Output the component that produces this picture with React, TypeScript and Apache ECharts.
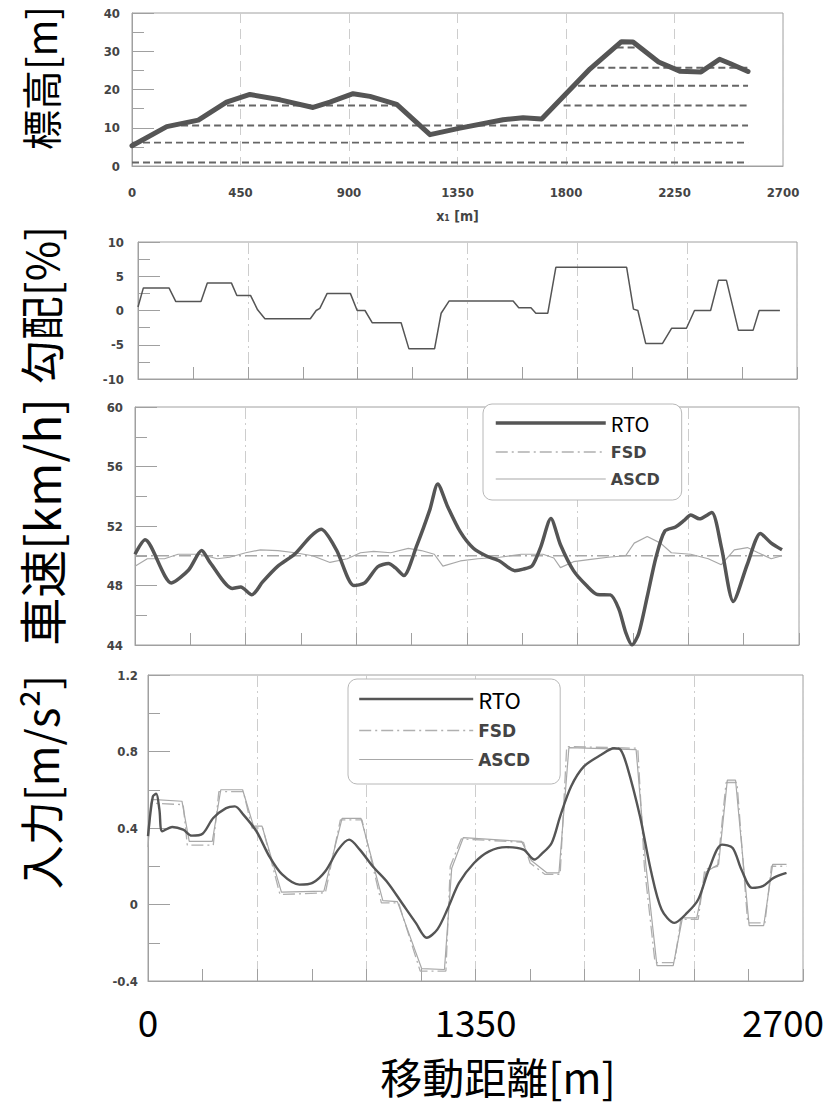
import React, { useEffect, useRef } from "react";
import * as echarts from "echarts";

// ---------- Panel 1: elevation ----------
const elevX = [0, 144, 275, 392, 489, 614, 751, 821, 917, 987, 1098, 1236, 1360, 1539, 1622, 1699, 1900, 2030, 2078, 2184, 2272, 2360, 2437, 2480, 2555];
const elevY = [5.3, 10.3, 12.0, 16.7, 18.7, 17.3, 15.3, 16.7, 18.9, 18.2, 16.1, 8.2, 9.9, 12.1, 12.6, 12.3, 25.4, 32.5, 32.4, 27.2, 24.8, 24.6, 27.9, 26.8, 24.7];
const segLevel = [0.9, 6.1, 10.6, 15.8, 15.8, 21.0, 25.7, 31.0];
const segStart = [0, 0, 158, 394, 1790, 1850, 1930, 2010];
const segEnd = [2555, 2555, 2555, 1100, 2555, 2555, 2555, 2090];

// ---------- Panel 2: gradient ----------
const gradX = [0, 22, 127, 155, 258, 284, 383, 405, 461, 490, 520, 706, 730, 745, 775, 870, 898, 930, 960, 1078, 1110, 1215, 1242, 1275, 1537, 1560, 1610, 1630, 1679, 1712, 2002, 2030, 2048, 2080, 2149, 2186, 2247, 2280, 2346, 2378, 2411, 2460, 2520, 2545, 2630];
const gradY = [0.5, 3.3, 3.3, 1.3, 1.3, 4.0, 4.0, 2.2, 2.2, 0.1, -1.2, -1.2, 0, 0.3, 2.5, 2.5, 0, 0, -1.8, -1.8, -5.6, -5.6, -0.4, 1.4, 1.4, 0.4, 0.4, -0.4, -0.4, 6.3, 6.3, 0.2, 0, -4.8, -4.8, -2.6, -2.6, 0, 0, 4.4, 4.4, -2.9, -2.9, 0, 0];

// ---------- Panel 3: speed ----------
const rtoSpeedX = [0, 41, 148, 218, 271, 307, 395, 430, 475, 519, 581, 651, 713, 757, 819, 890, 934, 987, 1031, 1058, 1093, 1146, 1199, 1231, 1270, 1323, 1376, 1429, 1482, 1544, 1579, 1615, 1650, 1691, 1730, 1783, 1836, 1880, 1933, 1968, 1995, 2021, 2048, 2083, 2118, 2154, 2198, 2233, 2260, 2295, 2345, 2384, 2433, 2490, 2543, 2587, 2631];
const rtoSpeedY = [50.1, 51.07, 48.17, 49.04, 50.35, 49.5, 47.8, 47.9, 47.37, 48.24, 49.3, 50.13, 51.28, 51.78, 50.4, 48.0, 48.17, 49.26, 49.48, 49.2, 48.67, 50.7, 53.1, 54.83, 53.35, 51.6, 50.5, 49.98, 49.65, 49.0, 49.1, 49.33, 50.6, 52.5, 50.74, 49.0, 48.0, 47.4, 47.37, 46.4, 44.87, 44.0, 44.76, 47.26, 49.87, 51.65, 51.93, 52.37, 52.74, 52.48, 52.9, 50.6, 46.93, 49.43, 51.5, 50.85, 50.4];
const fsdSpeedX = [0, 2631];
const fsdSpeedY = [50, 50];
const ascdSpeedX = [0, 50, 120, 175, 265, 334, 385, 450, 510, 581, 651, 722, 793, 863, 917, 970, 1040, 1111, 1164, 1217, 1252, 1323, 1394, 1482, 1570, 1659, 1703, 1730, 1783, 1853, 1924, 1995, 2030, 2083, 2137, 2181, 2260, 2331, 2384, 2437, 2490, 2534, 2587, 2631];
const ascdSpeedY = [49.3, 49.8, 49.8, 50.1, 50.1, 49.8, 49.9, 50.2, 50.4, 50.35, 50.2, 50.0, 49.55, 49.8, 50.2, 50.3, 50.2, 50.5, 50.35, 50.1, 49.3, 49.65, 49.8, 49.9, 50.1, 50.1, 49.85, 49.2, 49.6, 49.75, 49.9, 50.0, 50.85, 51.3, 50.85, 50.2, 50.1, 49.8, 49.4, 50.4, 50.55, 50.2, 49.8, 50.0];

// ---------- Panel 4: input ----------
const rtoInX = [0, 20, 34, 47, 59, 100, 145, 180, 225, 269, 322, 358, 393, 447, 500, 553, 624, 678, 731, 784, 829, 873, 926, 989, 1051, 1104, 1149, 1193, 1237, 1282, 1344, 1406, 1477, 1548, 1593, 1620, 1664, 1699, 1744, 1797, 1868, 1921, 1948, 1975, 2028, 2072, 2117, 2170, 2223, 2268, 2312, 2366, 2410, 2446, 2490, 2534, 2579, 2632];
const rtoInY = [0.357, 0.565, 0.579, 0.496, 0.383, 0.405, 0.391, 0.36, 0.37, 0.452, 0.504, 0.513, 0.47, 0.383, 0.252, 0.157, 0.104, 0.113, 0.174, 0.287, 0.339, 0.287, 0.2, 0.113, 0.0, -0.096, -0.174, -0.13, -0.017, 0.113, 0.217, 0.278, 0.3, 0.287, 0.235, 0.261, 0.322, 0.461, 0.617, 0.722, 0.783, 0.817, 0.809, 0.722, 0.461, 0.183, -0.026, -0.096, -0.043, 0.026, 0.183, 0.313, 0.296, 0.183, 0.087, 0.096, 0.139, 0.165];
const fsdInX = [0, 11, 145, 162, 269, 292, 393, 429, 473, 544, 731, 793, 882, 962, 1033, 1122, 1228, 1246, 1291, 1548, 1575, 1637, 1699, 1726, 2019, 2046, 2090, 2170, 2197, 2268, 2295, 2348, 2383, 2428, 2472, 2543, 2570, 2632];
const fsdInY = [0.36, 0.53, 0.522, 0.31, 0.31, 0.59, 0.59, 0.4, 0.4, 0.052, 0.061, 0.443, 0.443, 0.009, 0.009, -0.348, -0.348, 0.2, 0.343, 0.325, 0.217, 0.157, 0.157, 0.826, 0.817, 0.2, -0.304, -0.304, -0.078, -0.078, 0.183, 0.2, 0.638, 0.638, -0.096, -0.096, 0.2, 0.2];
const ascdInX = [0, 14, 140, 170, 265, 300, 390, 435, 470, 550, 725, 800, 878, 968, 1028, 1128, 1222, 1252, 1300, 1540, 1580, 1645, 1694, 1735, 2012, 2052, 2098, 2165, 2203, 2262, 2300, 2352, 2388, 2422, 2478, 2538, 2575, 2632];
const ascdInY = [0.3, 0.55, 0.54, 0.33, 0.33, 0.6, 0.6, 0.41, 0.41, 0.065, 0.07, 0.45, 0.45, 0.02, 0.015, -0.335, -0.34, 0.19, 0.35, 0.33, 0.23, 0.165, 0.165, 0.82, 0.81, 0.21, -0.32, -0.32, -0.07, -0.07, 0.17, 0.21, 0.65, 0.65, -0.11, -0.11, 0.21, 0.21];

// ---------- tick labels / titles ----------
const xTicks1 = { min: 0, max: 2700, interval: 450 };
const bottomTicks = { min: 0, max: 2700, interval: 1350 };
const yTitles = ["標高[m]", "勾配[%]", "車速[km/h]", "入力[m/s²]"];
const legendNames = ["RTO", "FSD", "ASCD"];

const zip = (xs: number[], ys: number[]) => xs.map((x, i) => [x, ys[i]]);

const FRAME = "#a0a0a0";
const GRIDC = "#cdcdcd";
const DASHDOT = [12, 4, 2, 4];
const tickFont = {
  fontFamily: '"DejaVu Sans Condensed", "DejaVu Sans", sans-serif',
  fontWeight: "bold" as const,
  fontSize: 13,
  color: "#444",
};
const JP = '"Noto Sans CJK JP", "Noto Sans", sans-serif';
const plain = (v: number) => String(Math.round(v * 1000) / 1000);

function buildOption() {
  const grids = [
    { left: 132, top: 13, width: 651, height: 153 },
    { left: 138, top: 242, width: 659, height: 137 },
    { left: 135, top: 407, width: 664, height: 238 },
    { left: 148, top: 675, width: 655, height: 306 },
  ].map((g) => ({ ...g, show: true, borderColor: FRAME, borderWidth: 1, containLabel: false, outerBoundsMode: "none" }));

  const xAxis: any[] = [
    {
      gridIndex: 0, type: "value", ...xTicks1,
      axisLine: { show: true, onZero: false, lineStyle: { color: FRAME } },
      axisTick: { show: false },
      axisLabel: { ...tickFont, margin: 20, formatter: plain },
      splitLine: { show: true, lineStyle: { color: GRIDC, type: [10, 6] } },
      name: "x\u2081 [m]", nameLocation: "middle", nameGap: 43,
      nameTextStyle: { ...tickFont, fontSize: 14 },
    },
  ];
  for (let k = 1; k <= 3; k++) {
    xAxis.push({
      gridIndex: k, type: "value", ...xTicks1,
      axisLine: { show: true, onZero: false, lineStyle: { color: FRAME } },
      axisTick: { show: true, inside: true, length: 12, lineStyle: { color: FRAME } },
      minorTick: { show: true, splitNumber: 2, length: 12, lineStyle: { color: FRAME } },
      axisLabel: { show: false },
      splitLine: { show: true, lineStyle: { color: GRIDC, type: DASHDOT } },
    });
  }
  xAxis.push({
    gridIndex: 3, type: "value", ...bottomTicks, position: "bottom",
    axisLine: { show: false, onZero: false }, axisTick: { show: false }, splitLine: { show: false },
    axisLabel: {
      margin: 20, fontSize: 37, fontFamily: JP, color: "#000",
      formatter: (v: number) => (v === bottomTicks.max ? "{r|" + v + "}" : "{n|" + v + "}"),
      rich: {
        n: { fontSize: 37, fontFamily: JP, color: "#000", lineHeight: 40 },
        r: { fontSize: 37, fontFamily: JP, color: "#000", lineHeight: 40, padding: [0, 40, 0, 0] },
      },
    },
    name: "移動距離[m]", nameLocation: "middle", nameGap: 72,
    nameTextStyle: { fontSize: 42, fontFamily: JP, color: "#000", lineHeight: 44, padding: [0, 0, 0, 45] },
  });

  const yDefs = [
    { min: 0, max: 40, interval: 10, margin: 12 },
    { min: -10, max: 10, interval: 5, margin: 14 },
    { min: 44, max: 60, interval: 4, margin: 12 },
    { min: -0.4, max: 1.2, interval: 0.4, margin: 10 },
  ];
  const yAxis = yDefs.map((d, k) => ({
    gridIndex: k, type: "value", min: d.min, max: d.max, interval: d.interval,
    axisLine: { show: true, onZero: false, lineStyle: { color: FRAME } },
    axisTick: { show: true, inside: true, length: 22, lineStyle: { color: FRAME } },
    minorTick: { show: true, splitNumber: 2, length: 12, lineStyle: { color: FRAME } },
    splitLine: { show: false },
    axisLabel: { ...tickFont, margin: d.margin, formatter: plain },
  }));

  const base = { type: "line", symbol: "none", showSymbol: false, silent: true, emphasis: { disabled: true } };
  const series: any[] = [];
  segLevel.forEach((lv, i) => {
    series.push({
      ...base, name: "level" + i, xAxisIndex: 0, yAxisIndex: 0, z: 2,
      data: [[segStart[i], lv], [segEnd[i], lv]],
      lineStyle: { color: "#666", width: 1.9, type: [7, 4] },
    });
  });
  series.push({
    ...base, name: "elevation", xAxisIndex: 0, yAxisIndex: 0, z: 3,
    data: zip(elevX, elevY),
    lineStyle: { color: "#555", width: 5, join: "round", cap: "round" },
  });
  series.push({
    ...base, name: "gradient", xAxisIndex: 1, yAxisIndex: 1, z: 3,
    data: zip(gradX, gradY),
    lineStyle: { color: "#555", width: 1.5 },
  });
  // speed
  series.push({
    ...base, name: "FSD", xAxisIndex: 2, yAxisIndex: 2, z: 2,
    data: zip(fsdSpeedX, fsdSpeedY), itemStyle: { color: "#a8a8a8" },
    lineStyle: { color: "#a8a8a8", width: 1.3, type: DASHDOT },
  });
  series.push({
    ...base, name: "ASCD", xAxisIndex: 2, yAxisIndex: 2, z: 2,
    data: zip(ascdSpeedX, ascdSpeedY), itemStyle: { color: "#a8a8a8" },
    lineStyle: { color: "#a8a8a8", width: 1.2 },
  });
  series.push({
    ...base, name: "RTO", xAxisIndex: 2, yAxisIndex: 2, z: 4, smooth: 0.25,
    data: zip(rtoSpeedX, rtoSpeedY), itemStyle: { color: "#555" },
    lineStyle: { color: "#555", width: 3.5 },
  });
  // input
  series.push({
    ...base, name: "FSD", xAxisIndex: 3, yAxisIndex: 3, z: 2,
    data: zip(fsdInX, fsdInY), itemStyle: { color: "#a8a8a8" },
    lineStyle: { color: "#b0b0b0", width: 1.3, type: DASHDOT },
  });
  series.push({
    ...base, name: "ASCD", xAxisIndex: 3, yAxisIndex: 3, z: 2,
    data: zip(ascdInX, ascdInY), itemStyle: { color: "#a8a8a8" },
    lineStyle: { color: "#a8a8a8", width: 1.2 },
  });
  series.push({
    ...base, name: "RTO", xAxisIndex: 3, yAxisIndex: 3, z: 4, smooth: 0.3,
    data: zip(rtoInX, rtoInY), itemStyle: { color: "#555" },
    lineStyle: { color: "#555", width: 2.4 },
  });

  const legItemText = (name: string, big: number, small: number) =>
    name === "RTO"
      ? { fontSize: big, fontFamily: JP, color: "#000" }
      : { fontSize: small, fontFamily: '"DejaVu Sans", sans-serif', fontWeight: "bold", color: "#444" };
  const legLine = (name: string, w: number) =>
    name === "RTO"
      ? { color: "#555", width: w, type: "solid" }
      : name === "FSD"
      ? { color: "#b0b0b0", width: 1.3, type: DASHDOT }
      : { color: "#a8a8a8", width: 1.2, type: "solid" };
  const legData = (big: number, small: number, w: number) =>
    legendNames.map((n) => ({
      name: n,
      textStyle: legItemText(n, big, small),
      lineStyle: legLine(n, w),
      itemStyle: { opacity: 0, borderWidth: 0 },
    }));

  const legend = [
    {
      orient: "vertical", left: 483, top: 404, padding: [9, 22, 13, 11], itemGap: 11,
      itemWidth: 110, itemHeight: 14, backgroundColor: "#fff",
      borderColor: "#b8b8b8", borderWidth: 1, borderRadius: 9, selectedMode: false,
      data: legData(20, 16, 3.5),
    },
    {
      orient: "vertical", left: 348, top: 679, padding: [9, 30, 16, 10], itemGap: 12,
      itemWidth: 114, itemHeight: 14, backgroundColor: "#fff",
      borderColor: "#b8b8b8", borderWidth: 1, borderRadius: 9, selectedMode: false,
      data: legData(22, 17, 2.4),
    },
  ];

  const titleY = [78, 305, 522, 782];
  const titleSize = [40, 44, 48, 44];
  const graphic = yTitles.map((t, i) => ({
    type: "text", x: 40, y: titleY[i], rotation: Math.PI / 2, silent: true,
    style: {
      text: t, fill: "#000", fontSize: titleSize[i], fontFamily: JP,
      align: "center", verticalAlign: "middle", textAlign: "center", textVerticalAlign: "middle",
    },
  }));

  return { animation: false, backgroundColor: "#fff", grid: grids, xAxis, yAxis, series, legend, graphic };
}

export default function App() {
  const ref = useRef<HTMLDivElement>(null);
  useEffect(() => {
    document.body.style.margin = "0";
    const chart = echarts.init(ref.current!, undefined, { renderer: "svg" });
    chart.setOption(buildOption() as any);
    return () => chart.dispose();
  }, []);
  return <div ref={ref} style={{ width: 834, height: 1107 }} />;
}
